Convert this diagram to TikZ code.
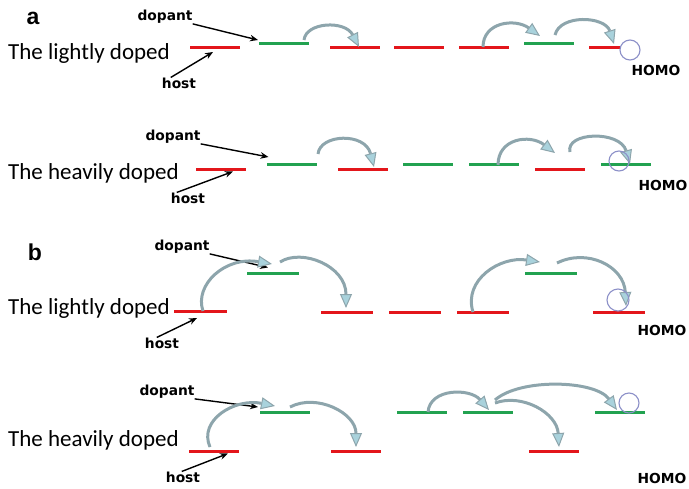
\documentclass[tikz,border=0pt]{standalone}
\usepackage{fontspec}
\setmainfont{Carlito}
\newfontfamily\lblfont{DejaVu Sans}
\newfontfamily\panelfont{Liberation Sans}
\usetikzlibrary{arrows.meta,calc}

\definecolor{hostred}{HTML}{E3161B}
\definecolor{dopgreen}{HTML}{22A250}
\definecolor{hopline}{HTML}{8DA5AC}
\definecolor{hopfill}{HTML}{A9D2DC}
\definecolor{holeblue}{HTML}{8C90C8}

\tikzset{
  lvl/.style={draw=none, minimum height=3pt, minimum width=50pt, inner sep=0pt, outer sep=0pt},
  hostlvl/.style={lvl, fill=hostred},
  doplvl/.style={lvl, fill=dopgreen},
  lbl/.style={font=\lblfont\bfseries\fontsize{13.8}{14}\selectfont, inner sep=0pt},
  rowtitle/.style={font=\fontsize{23}{23}\selectfont, anchor=west, inner sep=0pt},
  panel/.style={font=\panelfont\bfseries\fontsize{23}{23}\selectfont, inner sep=0pt},
  pointer/.style={-{Stealth[length=8pt,width=6.5pt]}, line width=1.4pt, black},
  hop/.style={draw=hopline, line width=3pt,
    -{Triangle[length=14pt,width=12pt,fill=hopfill,line width=1pt]}},
  hole/.style={circle, draw=holeblue, line width=1.1pt, minimum size=20pt, inner sep=0pt}
}

\begin{document}
\begin{tikzpicture}[x=1pt,y=-1pt]
\useasboundingbox (0,0) rectangle (689,488);

% ---------- panel a ----------
\node[panel] (pa) at (33,18) {a};

% lightly doped
\node[rowtitle] (t1) at (8,53) {The lightly doped};
\node[hostlvl] (h11) at (215,47.5) {};
\node[doplvl]  (g11) at (284,43) {};
\node[hostlvl] (h12) at (354.5,47.5) {};
\node[hostlvl] (h13) at (418.5,47.5) {};
\node[hostlvl] (h14) at (483.5,47.5) {};
\node[doplvl]  (g12) at (548.5,43) {};
\node[hostlvl] (h15) at (614,47.5) {};
\node[hole, fill=white] (o1) at (630,50) {};
\node[lbl] (homo1) at (656,70) {HOMO};
\node[lbl] (dop1) at (165,17) {dopant};
\node[lbl] (host1) at (179,83) {host};
\draw[pointer] (dop1.south east) -- ($(g11.west)+(-1,-3)$);
\draw[pointer] ($(host1.north west)+(9,0)$) -- ($(h11.south)+(-2,3)$);

\coordinate (a1s) at (304,40);  \coordinate (a1e) at (359,47);
\coordinate (a2s) at (483,47);  \coordinate (a2e) at (540,36);
\coordinate (a3s) at (555,35);  \coordinate (a3e) at (614,44);
\draw[hop] (a1s) .. controls (306,22) and (345,20) .. (a1e);
\draw[hop] (a2s) .. controls (483,22) and (515,18) .. (a2e);
\draw[hop] (a3s) .. controls (560,14) and (605,16) .. (a3e);

% heavily doped
\node[rowtitle] (t2) at (8,173) {The heavily doped};
\node[hostlvl] (h21) at (221,169) {};
\node[doplvl]  (g21) at (291.5,164) {};
\node[hostlvl] (h22) at (362.5,169) {};
\node[doplvl]  (g22) at (428,164) {};
\node[doplvl]  (g23) at (494,164) {};
\node[hostlvl] (h23) at (559.5,169) {};
\node[doplvl]  (g24) at (625.5,164) {};
\node[lbl] (homo2) at (663,185) {HOMO};
\node[lbl] (dop2) at (173,137) {dopant};
\node[lbl] (host2) at (188,198) {host};
\draw[pointer] (dop2.south east) -- ($(g21.west)+(2,-7)$);
\draw[pointer] ($(host2.north west)+(6,0)$) -- ($(h21.south)+(12,1)$);

\coordinate (b1s) at (318,154); \coordinate (b1e) at (374,167);
\coordinate (b2s) at (498,165); \coordinate (b2e) at (555,153);
\coordinate (b3s) at (570,152); \coordinate (b3e) at (630,164);
\draw[hop] (b1s) .. controls (320,134) and (365,132) .. (b1e);
\draw[hop] (b2s) .. controls (498,138) and (530,134) .. (b2e);
\draw[hop] (b3s) .. controls (565,132) and (620,130) .. (b3e);
\node[hole] (o2) at (619,161) {};

% ---------- panel b ----------
\node[panel] (pb) at (35,252) {b};

% lightly doped
\node[rowtitle] (t3) at (8,308) {The lightly doped};
\node[hostlvl, minimum width=53pt] (h31) at (200,311.5) {};
\node[doplvl,  minimum width=52pt] (g31) at (273,273) {};
\node[hostlvl, minimum width=52pt] (h32) at (346.5,312) {};
\node[hostlvl, minimum width=52pt] (h33) at (414.5,312) {};
\node[hostlvl, minimum width=52pt] (h34) at (482.5,312) {};
\node[doplvl,  minimum width=52pt] (g32) at (551,273) {};
\node[hostlvl, minimum width=52pt] (h35) at (618.5,312) {};
\node[lbl] (homo3) at (662,330) {HOMO};
\node[lbl] (dop3) at (182,247) {dopant};
\node[lbl] (host3) at (162,343) {host};
\draw[pointer] (dop3.south east) -- ($(g31.north)+(-5,-4)$);
\draw[pointer] ($(host3.north west)+(12,0)$) -- ($(h31.south)+(-3,5)$);

\coordinate (c1s) at (203,311); \coordinate (c1e) at (272,264);
\coordinate (c2s) at (280,262); \coordinate (c2e) at (346,308);
\coordinate (c3s) at (473,312); \coordinate (c3e) at (540,262);
\coordinate (c4s) at (557,263); \coordinate (c4e) at (626,306);
\draw[hop] (c1s) .. controls (194,285) and (225,256) .. (c1e);
\draw[hop] (c2s) .. controls (302,248) and (346,266) .. (c2e);
\draw[hop] (c3s) .. controls (463,280) and (500,256) .. (c3e);
\draw[hop] (c4s) .. controls (587,248) and (624,266) .. (c4e);
\node[hole, minimum size=22pt] (o3) at (618,300) {};

% heavily doped
\node[rowtitle] (t4) at (8,440) {The heavily doped};
\node[hostlvl] (h41) at (214,451) {};
\node[doplvl]  (g41) at (285,412) {};
\node[hostlvl] (h42) at (356,451) {};
\node[doplvl]  (g42) at (422,412) {};
\node[doplvl]  (g43) at (488,412) {};
\node[hostlvl] (h43) at (554,451) {};
\node[doplvl]  (g44) at (620,412) {};
\node[lbl] (homo4) at (662,478) {HOMO};
\node[lbl] (dop4) at (167,392) {dopant};
\node[lbl] (host4) at (183,477) {host};
\draw[pointer] (dop4.south east) -- ($(g41.west)+(-2,-5)$);
\draw[pointer] ($(host4.north west)+(16,0)$) -- ($(h41.south)+(14,1)$);

\coordinate (d1s) at (210,447); \coordinate (d1e) at (275,406);
\coordinate (d2s) at (290,407); \coordinate (d2e) at (356,447);
\coordinate (d3s) at (428,412); \coordinate (d3e) at (489,410);
\coordinate (d4s) at (495,403); \coordinate (d4e) at (559,447);
\coordinate (d5s) at (495,400); \coordinate (d5e) at (617,410);
\draw[hop] (d1s) .. controls (198,420) and (235,398) .. (d1e);
\draw[hop] (d2s) .. controls (317,393) and (356,413) .. (d2e);
\draw[hop] (d3s) .. controls (430,388) and (470,388) .. (d3e);
\draw[hop] (d4s) .. controls (522,393) and (557,413) .. (d4e);
\draw[hop] (d5s) .. controls (520,378) and (595,380) .. (d5e);
\node[hole] (o4) at (629,403) {};
\end{tikzpicture}
\end{document}
